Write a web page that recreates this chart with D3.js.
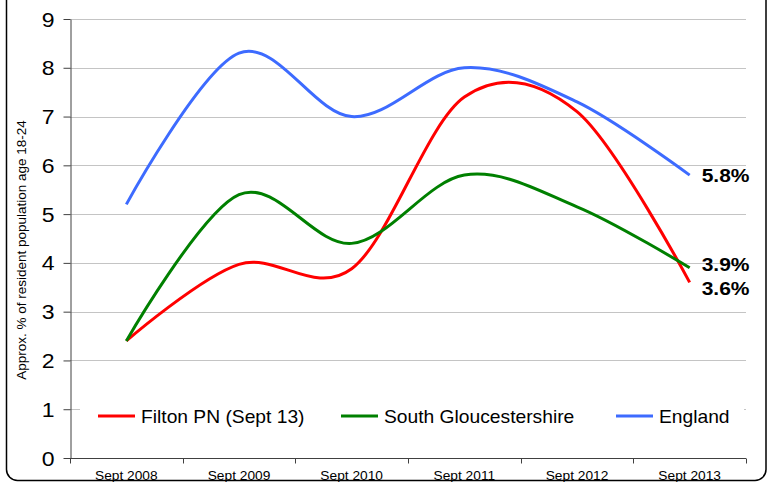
<!DOCTYPE html>
<html>
<head>
<meta charset="utf-8">
<script src="https://cdn.jsdelivr.net/npm/d3@7"></script>
<style>
  body { margin: 0; background: #fff; }
  svg { display: block; font-family: "Liberation Sans", Arial, sans-serif; }
</style>
</head>
<body>
<div id="chart"></div>
<script>
  const width = 768;
  const height = 482;

  // values
  const years = ["Sept 2008", "Sept 2009", "Sept 2010", "Sept 2011", "Sept 2012", "Sept 2013"];
  const filton = [2.4, 3.97, 3.88, 7.4, 7.1, 3.6];
  const southGlos = [2.4, 5.4, 4.4, 5.8, 5.15, 3.9];
  const england = [5.2, 8.3, 7.0, 8.0, 7.3, 5.8];
  const seriesNames = ["Filton PN (Sept 13)", "South Gloucestershire", "England"];
  const endLabels = ["3.6%", "3.9%", "5.8%"];
  const yTicks = [0, 1, 2, 3, 4, 5, 6, 7, 8, 9];

  const colors = ["#ff0000", "#008000", "#3d6bff"];
  const series = [filton, southGlos, england];

  const svg = d3.select("#chart").append("svg")
    .attr("width", width)
    .attr("height", height);

  // chart frame (top edge is cropped off in the reference)
  svg.append("rect")
    .attr("x", 6.5).attr("y", -20)
    .attr("width", 759.5).attr("height", 500.5)
    .attr("rx", 11).attr("ry", 11)
    .style("fill", "none")
    .style("stroke", "#000")
    .style("stroke-width", 1.5);

  const x = d3.scaleBand()
    .domain(years)
    .range([70, 746]);

  const y = d3.scaleLinear()
    .domain([0, 9])
    .range([458, 19]);

  const cx = function(i) { return x(years[i]) + x.bandwidth() / 2; };

  // gridlines
  svg.append("g")
    .selectAll("line")
    .data(yTicks.filter(d => d > 0))
    .enter()
    .append("line")
    .attr("x1", 70).attr("x2", 746)
    .attr("y1", d => Math.round(y(d)) + 0.5)
    .attr("y2", d => Math.round(y(d)) + 0.5)
    .style("stroke", "#c4c4c4")
    .style("stroke-width", 1);

  // y axis
  const yAxis = svg.append("g")
    .attr("transform", "translate(70.5,0)")
    .call(d3.axisLeft(y).tickValues(yTicks).tickSize(7).tickSizeOuter(0));
  yAxis.select(".domain").style("stroke", "#404040");
  yAxis.selectAll(".tick line").style("stroke", "#404040");
  yAxis.selectAll(".tick text")
    .attr("x", 0)
    .attr("dy", "0.36em")
    .attr("transform", "translate(-16,0) scale(1.18,1)")
    .style("font-family", "Liberation Sans, Arial, sans-serif")
    .style("font-size", "19.5px")
    .style("fill", "#000");

  // x axis, ticks on the band edges
  const xAxis = svg.append("g").attr("transform", "translate(0,458.5)");
  xAxis.append("line")
    .attr("x1", 70).attr("x2", 746)
    .style("stroke", "#404040");
  xAxis.selectAll("line.tick")
    .data(years.concat(["end"]))
    .enter()
    .append("line")
    .attr("class", "tick")
    .attr("x1", (d, i) => Math.round(i < years.length ? x(d) : x.range()[1]) + 0.5)
    .attr("x2", (d, i) => Math.round(i < years.length ? x(d) : x.range()[1]) + 0.5)
    .attr("y1", 0).attr("y2", 5)
    .style("stroke", "#404040");
  xAxis.selectAll("text")
    .data(years)
    .enter()
    .append("text")
    .attr("transform", (d, i) => "translate(" + cx(i) + ",21) scale(1.1,1)")
    .style("text-anchor", "middle")
    .style("font-size", "12.5px")
    .text(d => d);

  // y axis title
  svg.append("text")
    .attr("transform", "translate(26,250) rotate(-90)")
    .style("text-anchor", "middle")
    .style("font-size", "13.5px")
    .text("Approx. % of resident population age 18-24");

  // smoothed lines
  const line = d3.line()
    .x((d, i) => cx(i))
    .y(d => y(d))
    .curve(d3.curveCardinal.tension(0));

  svg.append("g")
    .selectAll("path")
    .data(series)
    .enter()
    .append("path")
    .attr("d", line)
    .style("fill", "none")
    .style("stroke", (d, i) => colors[i])
    .style("stroke-width", 3)
    .style("stroke-linejoin", "round");

  // end value labels
  const labelShift = [13, 3, 7];
  svg.append("g")
    .selectAll("text")
    .data(series)
    .enter()
    .append("text")
    .attr("transform", (d, i) =>
      "translate(" + (cx(years.length - 1) + 12) + "," + (y(d[d.length - 1]) + labelShift[i]) + ") scale(1.2,1)")
    .style("font-size", "17.5px")
    .style("font-weight", "bold")
    .text((d, i) => endLabels[i]);

  // legend
  const legend = svg.append("g");
  legend.append("rect")
    .attr("x", 80).attr("y", 399)
    .attr("width", 664).attr("height", 34)
    .style("fill", "#fff");
  const legendX = [98, 341, 616];
  const item = legend.selectAll("g")
    .data(seriesNames)
    .enter()
    .append("g")
    .attr("transform", (d, i) => "translate(" + legendX[i] + ",416)");
  item.append("line")
    .attr("x1", 0).attr("x2", 37)
    .style("stroke", (d, i) => colors[i])
    .style("stroke-width", 3);
  item.append("text")
    .attr("transform", "translate(43,6.5) scale(1.1,1)")
    .style("font-size", "17.5px")
    .text(d => d);
</script>
</body>
</html>
